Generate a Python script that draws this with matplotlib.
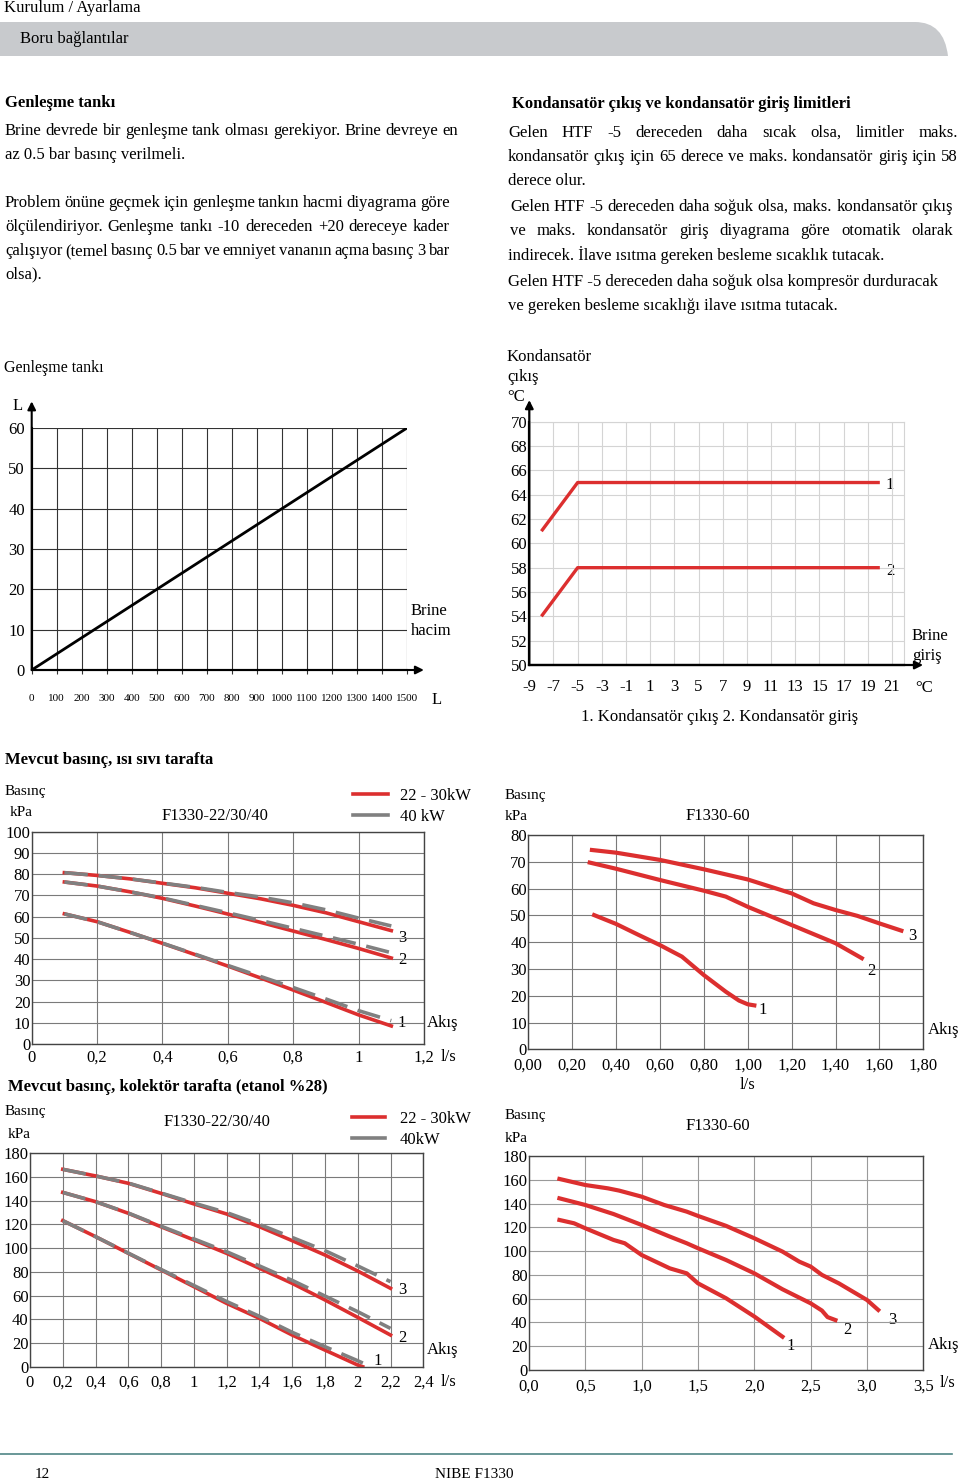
import matplotlib
matplotlib.use('Agg')
import matplotlib.pyplot as plt
from matplotlib.path import Path
from matplotlib.patches import PathPatch
from matplotlib.lines import Line2D

plt.rcParams['font.family'] = ['Liberation Serif', 'DejaVu Serif']

# ---------------- data ----------------
tank_volume = [0, 1500]
tank_size = [0, 60]
tank_xticks = list(range(0, 1501, 100))
tank_yticks = list(range(0, 61, 10))

cond_x = [-8, -5, 20]
cond_out = [61, 65, 65]
cond_in = [54, 58, 58]
cond_xticks = list(range(-9, 22, 2))
cond_yticks = list(range(50, 71, 2))

# heat medium side, F1330-22/30/40
hm_x = [0.10, 0.20, 0.30, 0.40, 0.50, 0.60, 0.70, 0.80, 0.90, 1.00, 1.10]
hm_red3 = [80.7, 79.4, 77.8, 75.7, 73.6, 71.0, 68.4, 65.3, 61.8, 57.6, 53.4]
hm_gray3 = [80.7, 79.4, 77.8, 75.8, 73.8, 71.4, 69.2, 66.5, 63.2, 59.3, 55.6]
hm_red2 = [76.3, 74.4, 71.7, 68.6, 65.0, 61.2, 57.3, 53.2, 49.2, 45.0, 40.5]
hm_gray2 = [76.3, 74.4, 71.7, 68.8, 65.3, 61.8, 58.2, 54.5, 50.8, 47.0, 43.0]
hm_red1 = [61.3, 57.6, 52.6, 47.4, 42.1, 36.7, 31.1, 25.4, 19.6, 13.7, 8.5]
hm_gray1 = [61.3, 57.6, 52.6, 47.5, 42.3, 37.0, 31.8, 26.6, 21.2, 15.7, 11.0]
hm_xticks = [0, 0.2, 0.4, 0.6, 0.8, 1.0, 1.2]
hm_xticklabels = ['0', '0,2', '0,4', '0,6', '0,8', '1', '1,2']
hm_yticks = [0, 10, 20, 30, 40, 50, 60, 70, 80, 90, 100]

# heat medium side, F1330-60
hm60_x3 = [0.29, 0.40, 0.60, 0.80, 1.00, 1.20, 1.30, 1.40, 1.50, 1.60, 1.70]
hm60_y3 = [74.4, 73.4, 70.7, 67.2, 63.4, 58.2, 54.5, 52.0, 49.8, 47.0, 44.3]
hm60_x2 = [0.28, 0.40, 0.60, 0.80, 0.90, 1.00, 1.20, 1.40, 1.52]
hm60_y2 = [69.7, 67.4, 63.2, 59.2, 57.0, 53.2, 46.4, 39.6, 34.0]
hm60_x1 = [0.30, 0.40, 0.50, 0.60, 0.70, 0.80, 0.90, 0.96, 1.00, 1.03]
hm60_y1 = [50.1, 46.8, 42.8, 38.9, 34.6, 27.7, 21.5, 18.2, 16.8, 16.4]
hm60_xticks = [0, 0.2, 0.4, 0.6, 0.8, 1.0, 1.2, 1.4, 1.6, 1.8]
hm60_xticklabels = ['0,00', '0,20', '0,40', '0,60', '0,80', '1,00', '1,20', '1,40', '1,60', '1,80']
hm60_yticks = [0, 10, 20, 30, 40, 50, 60, 70, 80]

# collector side, F1330-22/30/40
col_x = [0.2, 0.4, 0.6, 0.8, 1.0, 1.2, 1.4, 1.6, 1.8, 2.0, 2.2]
col_red3 = [166.5, 160.9, 154.7, 146.2, 137.3, 128.8, 118.1, 106.3, 94.2, 80.7, 66.1]
col_gray3 = [166.5, 160.9, 154.9, 146.5, 138.0, 130.0, 120.0, 109.0, 97.9, 85.0, 71.7]
col_red2 = [147.0, 139.2, 129.4, 118.0, 106.9, 95.6, 83.0, 70.3, 56.3, 41.6, 26.7]
col_gray2 = [147.0, 139.2, 129.6, 118.5, 107.8, 97.0, 85.0, 72.8, 59.6, 46.4, 32.3]
col_x1_red = [0.2, 0.4, 0.6, 0.8, 1.0, 1.2, 1.4, 1.6, 1.8, 2.0, 2.03]
col_red1 = [123.2, 109.7, 95.6, 81.6, 67.5, 53.4, 40.8, 26.7, 14.0, 1.4, 0.0]
col_x1_gray = [0.2, 0.4, 0.6, 0.8, 1.0, 1.2, 1.4, 1.6, 1.8, 2.0, 2.08]
col_gray1 = [123.2, 109.7, 95.8, 82.0, 68.5, 55.0, 42.5, 29.0, 16.9, 5.0, 0.0]
col_xticks = [0, 0.2, 0.4, 0.6, 0.8, 1.0, 1.2, 1.4, 1.6, 1.8, 2.0, 2.2, 2.4]
col_xticklabels = ['0', '0,2', '0,4', '0,6', '0,8', '1', '1,2', '1,4', '1,6', '1,8', '2', '2,2', '2,4']
col_yticks = [0, 20, 40, 60, 80, 100, 120, 140, 160, 180]

# collector side, F1330-60
col60_x3 = [0.27, 0.50, 0.70, 0.80, 1.00, 1.20, 1.40, 1.50, 1.75, 2.00, 2.25, 2.40, 2.50, 2.60, 2.75, 3.00, 3.10]
col60_y3 = [160.7, 155.6, 152.8, 150.9, 145.8, 138.8, 133.2, 129.6, 121.2, 110.8, 99.6, 91.1, 87.0, 80.0, 72.9, 58.9, 50.5]
col60_x2 = [0.27, 0.50, 0.75, 1.00, 1.25, 1.40, 1.50, 1.75, 2.00, 2.25, 2.50, 2.60, 2.65, 2.72]
col60_y2 = [144.4, 138.8, 131.2, 122.0, 112.2, 106.6, 102.4, 92.5, 81.3, 67.9, 56.1, 50.0, 44.5, 42.0]
col60_x1 = [0.27, 0.40, 0.50, 0.75, 0.85, 1.00, 1.25, 1.40, 1.50, 1.75, 2.00, 2.25]
col60_y1 = [126.2, 123.4, 119.2, 109.4, 106.6, 96.7, 85.5, 81.3, 72.9, 60.3, 45.0, 28.0]
col60_xticks = [0, 0.5, 1.0, 1.5, 2.0, 2.5, 3.0, 3.5]
col60_xticklabels = ['0,0', '0,5', '1,0', '1,5', '2,0', '2,5', '3,0', '3,5']
col60_yticks = [0, 20, 40, 60, 80, 100, 120, 140, 160, 180]

RED = '#dc2f2f'
GRAY = '#808080'
W, H = 960, 1484
BODY = 12

fig = plt.figure(figsize=(W / 100, H / 100), dpi=100)
bg = fig.add_axes([0, 0, 1, 1])
bg.set_xlim(0, W)
bg.set_ylim(H, 0)
bg.axis('off')

renderer = fig.canvas.get_renderer()


def T(x, y, s, size=BODY, **kw):
    kw.setdefault('va', 'center')
    return bg.text(x, y, s, fontsize=size, **kw)


def justify(x0, x1, y, s, size=BODY, **kw):
    words = s.split(' ')
    widths = []
    for w in words:
        t = bg.text(0, 0, w, fontsize=size, **kw)
        widths.append(t.get_window_extent(renderer=renderer).width)
        t.remove()
    gap = (x1 - x0 - sum(widths)) / (len(words) - 1)
    x = x0
    for w, wd in zip(words, widths):
        bg.text(x, y, w, fontsize=size, va='center', **kw)
        x += wd + gap


def px_axes(l, t, r, b):
    ax = fig.add_axes([l / W, 1 - b / H, (r - l) / W, (b - t) / H])
    ax.patch.set_alpha(0)
    return ax


# ---------------- header / footer ----------------
T(4, 8, 'Kurulum / Ayarlama', size=12)
verts = [(0, 22), (915, 22), (944, 22), (948, 56), (0, 56), (0, 22)]
codes = [Path.MOVETO, Path.LINETO, Path.CURVE3, Path.CURVE3, Path.LINETO, Path.CLOSEPOLY]
bg.add_patch(PathPatch(Path(verts, codes), facecolor='#c8cacd', edgecolor='none'))
T(20, 39, 'Boru bağlantılar', size=12)
bg.plot([0, 952], [1454, 1454], color='#4f8585', lw=1.2)
T(35, 1474, '12', size=11)
T(435, 1474, 'NIBE F1330', size=11)

# ---------------- body text ----------------
T(5, 103, 'Genleşme tankı', size=BODY, weight='bold')
justify(5, 458, 131, 'Brine devrede bir genleşme tank olması gerekiyor. Brine devreye en')
T(5, 155, 'az 0.5 bar basınç verilmeli.')
justify(5, 450, 203, 'Problem önüne geçmek için genleşme tankın hacmi diyagrama göre')
justify(5, 450, 227, 'ölçülendiriyor. Genleşme tankı -10 dereceden +20 dereceye kader')
justify(5, 450, 251, 'çalışıyor (temel basınç 0.5 bar ve emniyet vananın açma basınç 3 bar')
T(5, 274, 'olsa).')

T(512, 104, 'Kondansatör çıkış ve kondansatör giriş limitleri', size=BODY, weight='bold')
justify(508, 958, 133, 'Gelen HTF -5 dereceden daha sıcak olsa, limitler maks.')
justify(508, 958, 157, 'kondansatör çıkış için 65 derece ve maks. kondansatör giriş için 58')
T(508, 181, 'derece olur.')
justify(510, 953, 207, 'Gelen HTF -5 dereceden daha soğuk olsa, maks. kondansatör çıkış')
justify(510, 953, 231, 've maks. kondansatör giriş diyagrama göre otomatik olarak')
T(508, 255, 'indirecek. İlave ısıtma gereken besleme sıcaklık tutacak.')
T(508, 282, 'Gelen HTF -5 dereceden daha soğuk olsa kompresör durduracak')
T(508, 306, 've gereken besleme sıcaklığı ilave ısıtma tutacak.')

# ---------------- chart 1: expansion tank ----------------
T(4, 368, 'Genleşme tankı', size=11.5)
ax1 = px_axes(31.7, 428, 407, 670)
ax1.plot(tank_volume, tank_size, color='black', lw=2)
ax1.set_xlim(0, 1500)
ax1.set_ylim(0, 60)
ax1.set_xticks(tank_xticks)
ax1.set_xticklabels([str(v) for v in tank_xticks], fontsize=8)
ax1.set_yticks(tank_yticks)
ax1.set_yticklabels([str(v) for v in tank_yticks], fontsize=12)
ax1.grid(True, color='#333333', lw=0.8)
ax1.tick_params(axis='x', length=3, width=0.8, pad=14, color='#333333')
ax1.tick_params(axis='y', length=0, pad=5)
for s in ['top', 'right']:
    ax1.spines[s].set_visible(False)
for s in ['left', 'bottom']:
    ax1.spines[s].set_linewidth(1.5)
ax1.annotate('', xy=(1.045, 0), xytext=(0, 0), xycoords='axes fraction',
             arrowprops=dict(arrowstyle='-|>', color='black', lw=1.5, mutation_scale=12,
                             shrinkA=0, shrinkB=0))
ax1.annotate('', xy=(0, 1.11), xytext=(0, 0), xycoords='axes fraction',
             arrowprops=dict(arrowstyle='-|>', color='black', lw=1.5, mutation_scale=12,
                             shrinkA=0, shrinkB=0))
T(18, 406, 'L', size=12, ha='center')
T(437, 700, 'L', size=12, ha='center')
T(411, 611, 'Brine', size=12)
T(411, 631, 'hacim', size=12)

# ---------------- chart 2: condenser limits ----------------
T(507, 357, 'Kondansatör', size=12)
T(507, 377, 'çıkış', size=12)
T(507, 397, '°C', size=12)
ax2 = px_axes(529.3, 421.7, 904, 665)
ax2.plot(cond_x, cond_out, color=RED, lw=2.4, solid_capstyle='butt')
ax2.plot(cond_x, cond_in, color=RED, lw=2.4, solid_capstyle='butt')
ax2.set_xlim(-9, 22)
ax2.set_ylim(50, 70)
ax2.set_xticks(cond_xticks)
ax2.set_xticklabels([str(v) for v in cond_xticks], fontsize=12)
ax2.set_yticks(cond_yticks)
ax2.set_yticklabels([str(v) for v in cond_yticks], fontsize=12)
ax2.grid(True, color='#d4d4d4', lw=0.8)
ax2.tick_params(axis='x', length=0, pad=10)
ax2.tick_params(axis='y', length=0, pad=1.5)
for s in ['top', 'right']:
    ax2.spines[s].set_color('#d4d4d4')
    ax2.spines[s].set_linewidth(0.8)
for s in ['left', 'bottom']:
    ax2.spines[s].set_linewidth(1.6)
ax2.annotate('', xy=(1.051, 0), xytext=(0, 0), xycoords='axes fraction',
             arrowprops=dict(arrowstyle='-|>', color='black', lw=1.6, mutation_scale=12,
                             shrinkA=0, shrinkB=0))
ax2.annotate('', xy=(0, 1.089), xytext=(0, 0), xycoords='axes fraction',
             arrowprops=dict(arrowstyle='-|>', color='black', lw=1.6, mutation_scale=12,
                             shrinkA=0, shrinkB=0))
T(890, 485, '1', size=12, ha='center')
T(890, 571, '2', size=12, ha='center')
T(912, 636, 'Brine', size=12)
T(912, 656, 'giriş', size=12)
T(915, 688, '°C', size=12)
T(720, 717, '1. Kondansatör çıkış 2. Kondansatör giriş', size=12, ha='center')


def style_pressure(ax, xticks, xlabels, yticks, xpad, grid_color='#7a7a7a'):
    ax.set_xticks(xticks)
    ax.set_xticklabels(xlabels, fontsize=12)
    ax.set_yticks(yticks)
    ax.set_yticklabels([str(v) for v in yticks], fontsize=12)
    ax.set_xlim(xticks[0], xticks[-1])
    ax.set_ylim(yticks[0], yticks[-1])
    ax.grid(True, color=grid_color, lw=0.8)
    ax.tick_params(axis='x', length=0, pad=xpad)
    ax.tick_params(axis='y', length=0, pad=1)
    for s in ax.spines.values():
        s.set_color('#444444')
        s.set_linewidth(1.0)


DASH = (0, (6.5, 3))

# ---------------- chart 3 ----------------
T(5, 760, 'Mevcut basınç, ısı sıvı tarafta', size=12, weight='bold')
T(5, 792, 'Basınç', size=11)
T(10, 813, 'kPa', size=11)
T(215, 816, 'F1330-22/30/40', size=12, ha='center')
ax3 = px_axes(31.7, 831.7, 424, 1044)
style_pressure(ax3, hm_xticks, hm_xticklabels, hm_yticks, 4)
for red, gray in [(hm_red3, hm_gray3), (hm_red2, hm_gray2), (hm_red1, hm_gray1)]:
    ax3.plot(hm_x, red, color=RED, lw=2.6)
    ax3.plot(hm_x, gray, color=GRAY, lw=2.6, linestyle=DASH)
leg_handles = [Line2D([], [], color=RED, lw=2.6), Line2D([], [], color=GRAY, lw=2.6)]
ax3.legend(leg_handles, ['22 - 30kW', '40 kW'], loc='upper left', bbox_to_anchor=(0.819, 1.208),
           frameon=False, fontsize=12, handlelength=2.1, handletextpad=0.7,
           labelspacing=0.3, borderpad=0, borderaxespad=0)
T(402, 938, '3', size=12, ha='center')
T(402, 960, '2', size=12, ha='center')
T(402, 1023, '1', size=12, ha='center')
T(427, 1023, 'Akış', size=12)
T(441, 1057, 'l/s', size=12)

# ---------------- chart 4 ----------------
T(505, 795, 'Basınç', size=11)
T(505, 816, 'kPa', size=11)
T(718, 816, 'F1330-60', size=12, ha='center')
ax4 = px_axes(528.3, 835, 923.3, 1049.3)
style_pressure(ax4, hm60_xticks, hm60_xticklabels, hm60_yticks, 6)
ax4.plot(hm60_x3, hm60_y3, color=RED, lw=3)
ax4.plot(hm60_x2, hm60_y2, color=RED, lw=3)
ax4.plot(hm60_x1, hm60_y1, color=RED, lw=3)
T(912, 936, '3', size=12, ha='center')
T(871, 971, '2', size=12, ha='center')
T(763, 1010, '1', size=12, ha='center')
T(928, 1030, 'Akış', size=12)
T(748, 1085, 'l/s', size=12, ha='center')

# ---------------- chart 5 ----------------
T(8, 1087, 'Mevcut basınç, kolektör tarafta (etanol %28)', size=12, weight='bold')
T(5, 1112, 'Basınç', size=11)
T(8, 1135, 'kPa', size=11)
T(217, 1122, 'F1330-22/30/40', size=12, ha='center')
ax5 = px_axes(30, 1153.3, 423.3, 1366.7)
style_pressure(ax5, col_xticks, col_xticklabels, col_yticks, 6)
ax5.plot(col_x, col_red3, color=RED, lw=2.6)
ax5.plot(col_x, col_gray3, color=GRAY, lw=2.6, linestyle=DASH)
ax5.plot(col_x, col_red2, color=RED, lw=2.6)
ax5.plot(col_x, col_gray2, color=GRAY, lw=2.6, linestyle=DASH)
ax5.plot(col_x1_red, col_red1, color=RED, lw=2.6)
ax5.plot(col_x1_gray, col_gray1, color=GRAY, lw=2.6, linestyle=DASH)
ax5.legend(leg_handles, ['22 - 30kW', '40kW'], loc='upper left', bbox_to_anchor=(0.818, 1.198),
           frameon=False, fontsize=12, handlelength=2.0, handletextpad=0.9,
           labelspacing=0.3, borderpad=0, borderaxespad=0)
T(402, 1290, '3', size=12, ha='center')
T(402, 1338, '2', size=12, ha='center')
T(378, 1361, '1', size=12, ha='center')
T(427, 1350, 'Akış', size=12)
T(441, 1382, 'l/s', size=12)

# ---------------- chart 6 ----------------
T(505, 1115, 'Basınç', size=11)
T(505, 1138, 'kPa', size=11)
T(718, 1126, 'F1330-60', size=12, ha='center')
ax6 = px_axes(529, 1156, 923.3, 1370)
style_pressure(ax6, col60_xticks, col60_xticklabels, col60_yticks, 6, grid_color='#9a9a9a')
ax6.plot(col60_x3, col60_y3, color=RED, lw=3)
ax6.plot(col60_x2, col60_y2, color=RED, lw=3)
ax6.plot(col60_x1, col60_y1, color=RED, lw=3)
T(892, 1320, '3', size=12, ha='center')
T(847, 1330, '2', size=12, ha='center')
T(791, 1346, '1', size=12, ha='center')
T(928, 1345, 'Akış', size=12)
T(940, 1383, 'l/s', size=12)

fig.savefig('out.png', dpi=100)
